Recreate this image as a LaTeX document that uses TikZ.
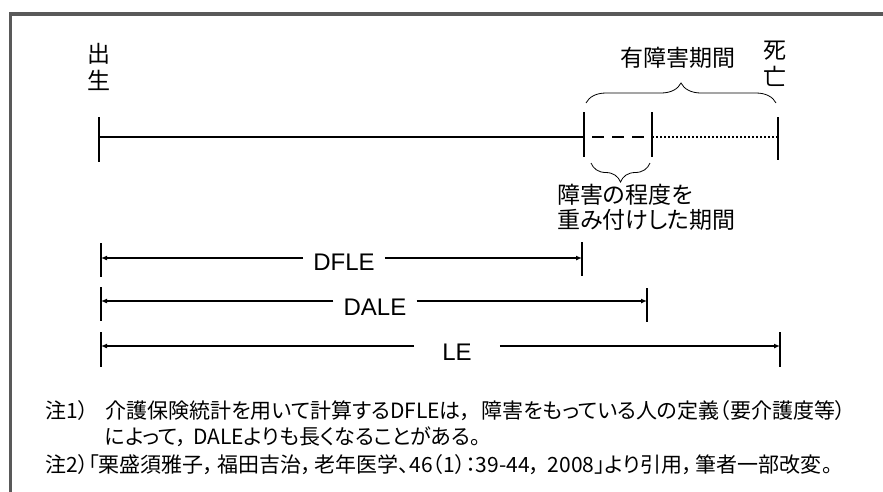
\documentclass[tikz,border=0pt]{standalone}
\usepackage{fontspec}
\setmainfont{Liberation Sans}
\newfontfamily\jpfont[RawFeature=+palt]{Noto Sans CJK JP}
\usetikzlibrary{positioning,calc,arrows.meta,decorations.pathreplacing}

\begin{document}
\begin{tikzpicture}[
	x=1pt, y=-1pt,
	every node/.style={inner sep=0pt},
	jp_big/.style={font=\jpfont\fontsize{23}{27}\selectfont, align=center},
	jp_note/.style={font=\jpfont\fontsize{21}{26}\selectfont, anchor=west},
	dim_label/.style={font=\fontsize{24}{28}\selectfont, inner xsep=10pt},
	time_line/.style={line width=2.5pt},
	time_tick/.style={line width=2.5pt},
	dim_tick/.style={line width=1.3pt},
	dim_arrow/.style={-{Latex[length=6pt,width=5pt]}, line width=1.5pt},
	period_brace/.style={decorate, decoration={brace, amplitude=#1}, line width=0.8pt},
	frame_line/.style={draw=black!65, line width=3.5pt}
	]
	\useasboundingbox (0,0) rectangle (883,491);
	\clip (0,0) rectangle (883,491);
	
	% --- 1. FRAME ---
	\draw[frame_line] (10.5,520) -- (10.5,14) -- (900,14);
	
	% --- 2. TIME LINE ---
	\coordinate (P_birth) at (99,137);
	\coordinate (P_onset) at (584,137);
	\coordinate (P_weight) at (652,137);
	\coordinate (P_death) at (778,137);
	
	\draw[time_line] (P_birth) -- (P_onset);
	\draw[time_line, dash pattern=on 12pt off 8pt, dash phase=12pt] (P_onset) -- (P_weight);
	\draw[line width=2.4pt, dash pattern=on 2pt off 2pt] (P_weight) -- (P_death);
	
	\draw[time_tick] ($(P_birth)+(0,-20)$) -- ($(P_birth)+(0,25)$);
	\draw[time_tick] ($(P_onset)+(0,-25)$) -- ($(P_onset)+(0,20)$);
	\draw[time_tick] ($(P_weight)+(0,-25)$) -- ($(P_weight)+(0,20)$);
	\draw[time_tick] ($(P_death)+(0,-20)$) -- ($(P_death)+(0,23)$);
	
	% braces
	\draw[period_brace=20pt] ($(P_onset)+(2,-34)$) -- ($(P_death)+(-2,-34)$);
	\draw[period_brace=19pt] ($(P_weight)+(-2,26)$) -- ($(P_onset)+(7,26)$);
	
	% labels
	\node[jp_big] (Lbl_birth) at (99,67) {出\\生};
	\node[jp_big] (Lbl_death) at (775,64) {死\\亡};
	\node[jp_big] (Lbl_disab) at (678,58) {有障害期間};
	\node[jp_big, align=left, anchor=west, font=\jpfont\fontsize{23}{25}\selectfont] (Lbl_weight) at (557,207) {障害の程度を\\重み付けした期間};
	
	% --- 3. DFLE / DALE / LE ---
	\coordinate (D_L1) at (101,258);
	\coordinate (D_R1) at (582,258);
	\node[dim_label] (Lbl_DFLE) at (344,262) {DFLE};
	\draw[dim_arrow] (Lbl_DFLE.west |- D_L1) -- (D_L1);
	\draw[dim_arrow] (Lbl_DFLE.east |- D_R1) -- (D_R1);
	\draw[dim_tick] ($(D_L1)+(0,-15)$) -- ($(D_L1)+(0,19)$);
	\draw[dim_tick] ($(D_R1)+(0,-16)$) -- ($(D_R1)+(0,18)$);
	
	\coordinate (D_L2) at (101,301);
	\coordinate (D_R2) at (647,301);
	\node[dim_label] (Lbl_DALE) at (375,307) {DALE};
	\draw[dim_arrow] (Lbl_DALE.west |- D_L2) -- (D_L2);
	\draw[dim_arrow] (Lbl_DALE.east |- D_R2) -- (D_R2);
	\draw[dim_tick] ($(D_L2)+(0,-14)$) -- ($(D_L2)+(0,20)$);
	\draw[dim_tick] ($(D_R2)+(0,-13)$) -- ($(D_R2)+(0,21)$);
	
	\coordinate (D_L3) at (101,346);
	\coordinate (D_R3) at (780,346);
	\node[dim_label, inner xsep=28pt] (Lbl_LE) at (457,352) {LE};
	\draw[dim_arrow] (Lbl_LE.west |- D_L3) -- (D_L3);
	\draw[dim_arrow] (Lbl_LE.east |- D_R3) -- (D_R3);
	\draw[dim_tick] ($(D_L3)+(0,-14)$) -- ($(D_L3)+(0,21)$);
	\draw[dim_tick] ($(D_R3)+(0,-14)$) -- ($(D_R3)+(0,21)$);
	
	% --- 4. NOTES ---
	\node[jp_note] (Note_1) at (45,411) {注1）\hspace{17pt}介護保険統計を用いて計算するDFLEは，\hspace{10pt}障害をもっている人の定義（要介護度等）};
	\node[jp_note] (Note_1b) at (105,437) {によって，\hspace{6pt}DALEよりも長くなることがある。};
	\node[jp_note] (Note_2) at (45,465) {注2）「栗盛須雅子，\hspace{3pt}福田吉治，\hspace{3pt}老年医学、46（1）：39-44，\hspace{3pt} 2008」より引用，\hspace{3pt}筆者一部改変。};
	
\end{tikzpicture}
\end{document}
